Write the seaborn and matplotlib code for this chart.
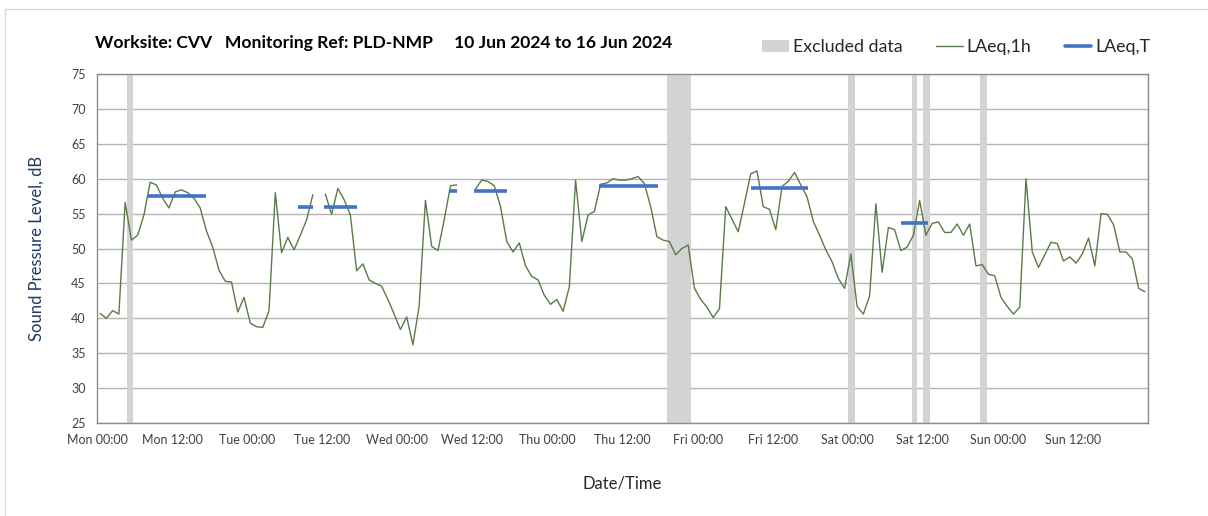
import numpy as np
import pandas as pd
import matplotlib.pyplot as plt
from matplotlib.patches import Patch, Rectangle
from matplotlib.lines import Line2D
import seaborn as sns

# hourly LAeq,1h values, Mon 10 Jun 00:00 -> Sun 16 Jun 23:00 (NaN = no data)
laeq_1h = [
    40.7, 40.0, 41.1, 40.6, 56.6, 51.2, 51.9, 54.8, 59.5, 59.1, 57.2, 55.8,
    58.1, 58.4, 58.0, 57.2, 55.8, 52.5, 50.2, 46.9, 45.3, 45.2, 40.9, 43.0,
    39.3, 38.8, 38.7, 41.1, 58.0, 49.4, 51.6, 49.8, 51.9, 54.1, 57.7, np.nan,
    57.8, 54.9, 58.6, 57.0, 54.8, 46.8, 47.8, 45.5, 45.0, 44.6, 42.7, 40.6,
    38.4, 40.2, 36.2, 41.8, 56.9, 50.3, 49.7, 54.1, 59.0, 59.1, np.nan, np.nan,
    58.5, 59.8, 59.6, 59.0, 56.0, 51.0, 49.5, 50.8, 47.5, 46.0, 45.5, 43.3,
    42.0, 42.7, 41.0, 44.5, 59.8, 51.0, 54.8, 55.3, 59.2, 59.4, 60.0, 59.8,
    59.8, 60.0, 60.3, 59.3, 56.0, 51.7, 51.2, 51.0, 49.1, 50.0, 50.5, 44.3,
    42.7, 41.6, 40.1, 41.4, 56.0, 54.2, 52.4, 56.5, 60.7, 61.1, 56.0, 55.6,
    52.7, 58.9, 59.6, 60.9, 59.1, 57.4, 53.9, 51.9, 49.8, 48.1, 45.7, 44.3,
    49.2, 41.7, 40.6, 43.2, 56.4, 46.6, 53.0, 52.7, 49.7, 50.2, 51.9, 56.9,
    51.9, 53.6, 53.8, 52.3, 52.3, 53.5, 51.9, 53.5, 47.5, 47.7, 46.3, 46.1,
    43.0, 41.7, 40.6, 41.6, 60.0, 49.5, 47.3, 49.1, 50.9, 50.7, 48.2, 48.8,
    47.9, 49.2, 51.5, 47.5, 55.0, 54.9, 53.4, 49.5, 49.5, 48.5, 44.3, 43.8,
]

# LAeq,T periods (hours from Mon 00:00)
period_start = [8.0, 32.2, 36.3, 56.3, 60.3, 80.3, 104.5, 128.5]
period_end = [17.5, 34.5, 41.5, 57.6, 65.6, 89.7, 113.7, 132.9]
period_level = [57.5, 55.9, 55.9, 58.3, 58.3, 59.0, 58.7, 53.6]

# excluded data windows (hours from Mon 00:00)
excl_start = [4.8, 91.1, 120.1, 130.2, 132.1, 141.2]
excl_end = [5.8, 95.0, 121.1, 131.1, 133.2, 142.2]

tick_hours = list(range(0, 168, 12))
tick_labels = ["Mon 00:00", "Mon 12:00", "Tue 00:00", "Tue 12:00", "Wed 00:00",
               "Wed 12:00", "Thu 00:00", "Thu 12:00", "Fri 00:00", "Fri 12:00",
               "Sat 00:00", "Sat 12:00", "Sun 00:00", "Sun 12:00"]

df = pd.DataFrame({"hour": np.arange(len(laeq_1h)) + 0.5, "level": laeq_1h})
# split at the gaps so the line is broken there
df["seg"] = df["level"].isna().cumsum()
df = df.dropna()

sns.set_theme(style="white")
plt.rcParams["font.family"] = ["Lato", "DejaVu Sans"]

fig = plt.figure(figsize=(12.08, 5.16), dpi=100)
ax = fig.add_axes([97 / 1208, 1 - 423 / 516, (1148 - 97) / 1208, (423 - 74) / 516])

# chart area border
fig.patches.append(Rectangle((5 / 1208, -0.1), 1.2, 1.1 - 9 / 516, transform=fig.transFigure,
                             fill=False, edgecolor="#d9d9d9", linewidth=1))

for s, e in zip(excl_start, excl_end):
    ax.axvspan(s, e, color="#d3d3d3", lw=0, zorder=1)

sns.lineplot(data=df, x="hour", y="level", units="seg", estimator=None,
             color="#5a7a48", linewidth=1.0, ax=ax, zorder=3)

ax.hlines(period_level, period_start, period_end, color="#4472c4", linewidth=2.6, zorder=4)

ax.set_xlim(0, 168)
ax.set_ylim(25, 75)
ax.set_yticks(range(25, 80, 5))
ax.set_xticks(tick_hours)
ax.set_xticklabels(tick_labels)
ax.set_xticks(range(0, 169, 24), minor=True)

ax.grid(axis="y", color="#b3b3b3", linewidth=1)
ax.grid(axis="x", which="minor", color="#e0e0e0", linewidth=1)
ax.grid(axis="x", which="major", visible=False)
ax.set_axisbelow(True)

for sp in ax.spines.values():
    sp.set_color("#8c8c8c")
    sp.set_linewidth(1)

ax.tick_params(axis="both", which="major", direction="out", length=5, width=1,
               color="#8c8c8c", labelsize=9, labelcolor="#404040", pad=3)
ax.tick_params(axis="x", which="minor", length=0)

ax.set_xlabel("Date/Time", fontsize=12, color="#262626", labelpad=21)
ax.set_ylabel("Sound Pressure Level, dB", fontsize=12, color="#1f3864", labelpad=19)

fig.text(95 / 1208, 1 - 43 / 516, "Worksite: CVV   Monitoring Ref: PLD-NMP     10 Jun 2024 to 16 Jun 2024",
         fontsize=12.6, fontweight="bold", color="#000000", va="center")

handles = [
    Patch(facecolor="#d3d3d3", edgecolor="none"),
    Line2D([], [], color="#5a7a48", linewidth=1.0),
    Line2D([], [], color="#4472c4", linewidth=2.6),
]
fig.legend(handles, ["Excluded data", "LAeq,1h", "LAeq,T"], ncol=3, frameon=False,
           loc="center right", bbox_to_anchor=(1150 / 1208, 1 - 47 / 516),
           fontsize=12.8, handlelength=1.5, handletextpad=0.2, columnspacing=1.9,
           labelcolor="#262626", borderaxespad=0, borderpad=0)

fig.savefig("out.png", dpi=100)
